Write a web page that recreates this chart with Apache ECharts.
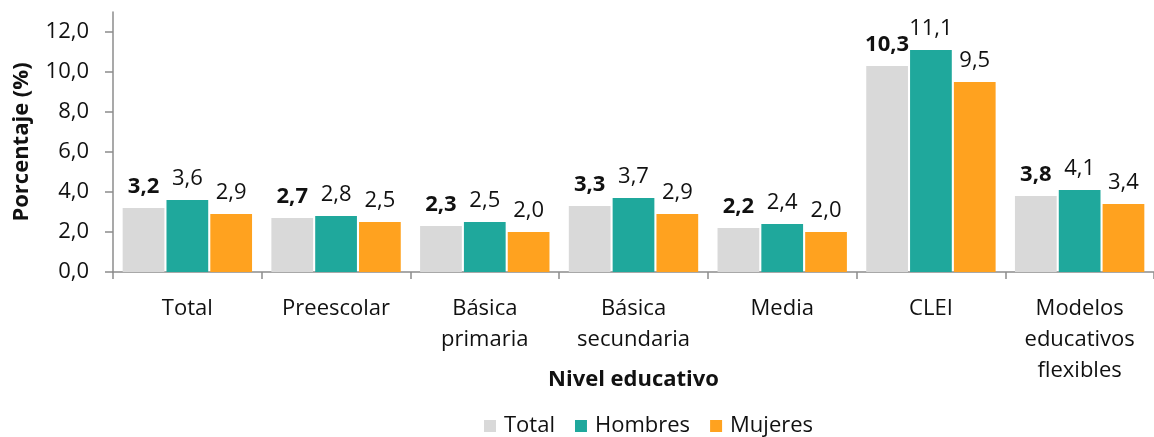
<!DOCTYPE html>
<html>
<head>
<meta charset="utf-8">
<script src="https://cdn.jsdelivr.net/npm/echarts@6/dist/echarts.min.js"></script>
<style>
  html, body { margin: 0; padding: 0; background: #fff; }
  #chart { width: 1154px; height: 437px; }
</style>
</head>
<body>
<div id="chart"></div>
<script>
const categories = ["Total", "Preescolar", "Básica\nprimaria", "Básica\nsecundaria", "Media", "CLEI", "Modelos\neducativos\nflexibles"];
const totalValues = [3.2, 2.7, 2.3, 3.3, 2.2, 10.3, 3.8];
const hombresValues = [3.6, 2.8, 2.5, 3.7, 2.4, 11.1, 4.1];
const mujeresValues = [2.9, 2.5, 2.0, 2.9, 2.0, 9.5, 3.4];
const yTicks = [0, 2, 4, 6, 8, 10, 12];

const FONT = "'Open Sans', 'Noto Sans', sans-serif";
const fmt = (v) => Number(v).toFixed(1).replace(".", ",");

const chart = echarts.init(document.getElementById("chart"), null, { renderer: "canvas" });

function barSeries(name, data, color, bold){
  return {
    name,
    type: "bar",
    data,
    barGap: "5%",
    barCategoryGap: "13%",
    itemStyle: { color },
    label: {
      show: true,
      position: "top",
      distance: 10,
      fontFamily: FONT,
      fontSize: 22,
      fontWeight: bold ? "bold" : "normal",
      color: "#111",
      formatter: (p) => fmt(p.value)
    }
  };
}

chart.setOption({
  animation: false,
  backgroundColor: "#fff",
  textStyle: { fontFamily: FONT },
  grid: { left: 113, top: 12, width: 1045, bottom: 165, containLabel: false },
  legend: {
    data: ["Total", "Hombres", "Mujeres"],
    left: 479,
    top: 410,
    itemWidth: 12,
    itemHeight: 12,
    itemGap: 20,
    icon: "rect",
    textStyle: { fontFamily: FONT, fontSize: 22, color: "#111", padding: [0, 0, 0, 3] }
  },
  xAxis: {
    type: "category",
    data: categories,
    name: "Nivel educativo",
    nameLocation: "middle",
    nameGap: 97,
    nameMoveOverlap: false,
    nameTextStyle: { fontFamily: FONT, fontSize: 22, fontWeight: "bold", color: "#111" },
    axisLine: { lineStyle: { color: "#8c8c8c", width: 1.5 } },
    axisTick: { show: true, length: 7, lineStyle: { color: "#8c8c8c", width: 1.5 } },
    axisLabel: {
      fontFamily: FONT,
      fontSize: 22,
      color: "#111",
      lineHeight: 31,
      margin: 21,
      interval: 0
    }
  },
  yAxis: {
    type: "value",
    min: 0,
    max: 13,
    interval: 2,
    name: "Porcentaje (%)",
    nameLocation: "middle",
    nameGap: 80,
    nameMoveOverlap: false,
    nameTextStyle: { fontFamily: FONT, fontSize: 22, fontWeight: "bold", color: "#111" },
    axisLine: { show: true, lineStyle: { color: "#8c8c8c", width: 1.5 } },
    axisTick: { show: true, length: 8, customValues: yTicks, lineStyle: { color: "#8c8c8c", width: 1.5 } },
    splitLine: { show: false },
    axisLabel: {
      fontFamily: FONT,
      fontSize: 22,
      color: "#111",
      margin: 24,
      customValues: yTicks,
      formatter: (v) => fmt(v)
    }
  },
  series: [
    barSeries("Total", totalValues, "#d9d9d9", true),
    barSeries("Hombres", hombresValues, "#1fa89c", false),
    barSeries("Mujeres", mujeresValues, "#ffa21f", false)
  ]
});
</script>
</body>
</html>
